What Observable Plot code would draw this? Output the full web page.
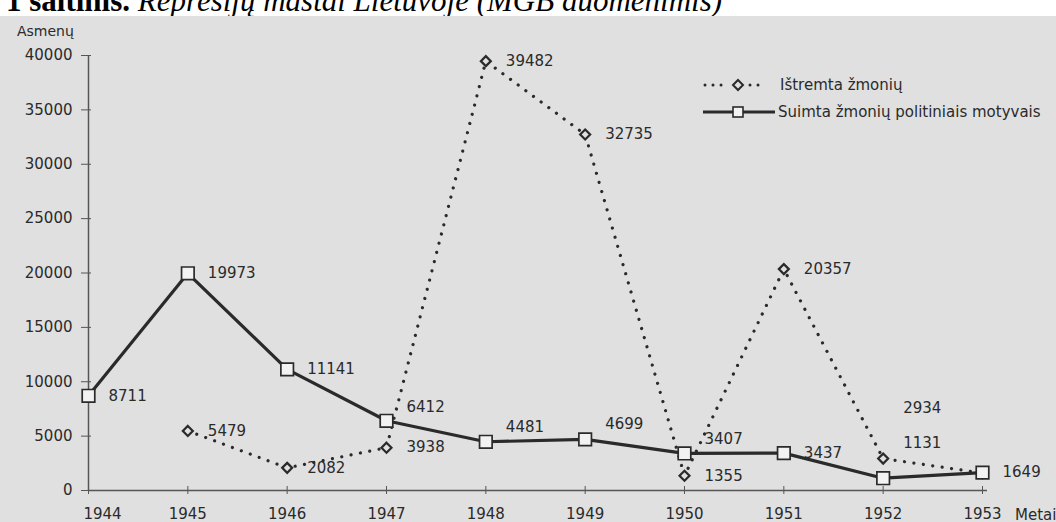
<!DOCTYPE html>
<html>
<head>
<meta charset="utf-8">
<script src="https://cdn.jsdelivr.net/npm/d3@7"></script>
<script src="https://cdn.jsdelivr.net/npm/@observablehq/plot@0.6"></script>
<style>
  html, body { margin: 0; padding: 0; background: #ffffff; }
  #wrap { position: relative; width: 1056px; height: 522px; overflow: hidden; background: #ffffff; }
  #title { position: absolute; left: 0; top: 0; width: 1056px; height: 17px; overflow: hidden; background: #ffffff; }
  #title span.t { position: absolute; left: 6px; top: -19px; font-family: "Liberation Serif", serif; font-size: 31px; line-height: 40px; white-space: nowrap; color: #000; }
  #chart { position: absolute; left: 0; top: 16px; width: 1056px; height: 506px; background: #e0e0e0; }
  .ov { position: absolute; font-family: "DejaVu Sans", sans-serif; color: #2a2a2a; white-space: nowrap; }
</style>
</head>
<body>
<div id="wrap">
  <div id="title"><span class="t"><b>1 šaltinis.</b> <i>Represijų mastai Lietuvoje (MGB duomenimis)</i></span></div>
  <div id="chart"></div>
  <div class="ov" style="left:17px; top:22px; font-size:14px; line-height:18px;">Asmenų</div>
  <div class="ov" style="left:1015px; top:506px; font-size:15px; line-height:18px;">Metai</div>
  <div class="ov" id="legend" style="left:700px; top:74px; width:356px; height:50px;"></div>
</div>
<script>
// ---- data ----
const years = [1944, 1945, 1946, 1947, 1948, 1949, 1950, 1951, 1952, 1953];
const suimta = [8711, 19973, 11141, 6412, 4481, 4699, 3407, 3437, 1131, 1649];
const istremtaYears = [1945, 1946, 1947, 1948, 1949, 1950, 1951, 1952, 1953];
const istremta = [5479, 2082, 3938, 39482, 32735, 1355, 20357, 2934, 1600];
const istremtaPrinted = [true, true, true, true, true, true, true, true, false];
const yTicks = [0, 5000, 10000, 15000, 20000, 25000, 30000, 35000, 40000];
const seriesNames = ["Ištremta žmonių", "Suimta žmonių politiniais motyvais"];

// ---- layout config (label lifts, px) ----
const lift = { "s1947": -14, "s1948": -15, "s1949": -15, "s1950": -14, "s1952": -35, "i1952": -50 };

const sData = years.map((year, i) => ({ year, value: suimta[i], key: "s" + year }));
const iData = istremtaYears.map((year, i) => ({ year, value: istremta[i], key: "i" + year, printed: istremtaPrinted[i] }));
const labelData = [...sData, ...iData.filter(d => d.printed)];
const lifts = Array.from(new Set(labelData.map(d => lift[d.key] || 0)));

const ink = "#2a2a2a";
const bg = "#e0e0e0";
const txt = "#2a2a2a";

const labelMarks = lifts.map(dy => Plot.text(labelData.filter(d => (lift[d.key] || 0) === dy), {
  x: "year", y: "value", text: d => String(d.value), dx: 20, dy, textAnchor: "start", fill: txt, fontSize: 15
}));

const chart = Plot.plot({
  width: 1056,
  height: 506,
  marginLeft: 88,
  marginRight: 74,
  marginTop: 39,
  marginBottom: 32,
  x: { domain: [years[0], years[years.length - 1]] },
  y: { domain: [yTicks[0], yTicks[yTicks.length - 1]] },
  style: { background: "transparent", fontFamily: "DejaVu Sans, sans-serif", fontSize: "15px", color: txt },
  marks: [
    Plot.axisY({ ticks: yTicks, tickSize: 7, tickPadding: 9, tickFormat: d => String(d), label: null, stroke: "#555", fill: txt, fontSize: 15 }),
    Plot.axisY({ ticks: yTicks, tickSize: -3, tickFormat: () => "", label: null, stroke: "#555" }),
    Plot.axisX({ ticks: years, tickSize: 4, tickFormat: () => "", label: null, stroke: "#555" }),
    Plot.axisX({ ticks: years, tickSize: -4, tickFormat: () => "", label: null, stroke: "#555" }),
    Plot.text(years.slice(0, 1), { x: d => d, frameAnchor: "bottom", dy: 28, dx: 14, text: d => String(d), fill: txt, fontSize: 15 }),
    Plot.text(years.slice(1), { x: d => d, frameAnchor: "bottom", dy: 28, text: d => String(d), fill: txt, fontSize: 15 }),
    Plot.ruleY([yTicks[0]], { x1: years[0], x2: years[years.length - 1] + 0.05, stroke: "#555", strokeWidth: 1.5 }),
    Plot.ruleX([years[0]], { y1: yTicks[0], y2: yTicks[yTicks.length - 1], stroke: "#555", strokeWidth: 1.5 }),
    Plot.line(iData, { x: "year", y: "value", stroke: ink, strokeWidth: 3.2, strokeDasharray: "0.01 9.5", strokeLinecap: "round" }),
    Plot.line(sData, { x: "year", y: "value", stroke: ink, strokeWidth: 3.2 }),
    Plot.dot(iData, { x: "year", y: "value", symbol: "diamond2", r: 4.5, stroke: ink, strokeWidth: 2.2, fill: bg }),
    Plot.dot(sData, { x: "year", y: "value", symbol: "square2", r: 8, stroke: ink, strokeWidth: 1.7, fill: "#f2f2f2" }),
    ...labelMarks
  ]
});
document.getElementById("chart").appendChild(chart);

// ---- legend ----
const lg = document.getElementById("legend");
lg.innerHTML = `
<svg width="80" height="50" style="position:absolute;left:0;top:0;overflow:visible">
  <line x1="5" y1="11" x2="25" y2="11" stroke="${ink}" stroke-width="3" stroke-dasharray="0.01 8" stroke-linecap="round"/>
  <line x1="50" y1="11" x2="62" y2="11" stroke="${ink}" stroke-width="3" stroke-dasharray="0.01 8" stroke-linecap="round"/>
  <path d="M38,6 L43,11 L38,16 L33,11 Z" fill="${bg}" stroke="${ink}" stroke-width="2"/>
  <line x1="3" y1="38" x2="75" y2="38" stroke="${ink}" stroke-width="3"/>
  <rect x="33" y="33" width="10" height="10" fill="#f2f2f2" stroke="${ink}" stroke-width="1.6"/>
</svg>
<div style="position:absolute;left:80px;top:2px;font-size:15px;line-height:18px;">${seriesNames[0]}</div>
<div style="position:absolute;left:78px;top:29px;font-size:15px;line-height:18px;">${seriesNames[1]}</div>`;
</script>
</body>
</html>
